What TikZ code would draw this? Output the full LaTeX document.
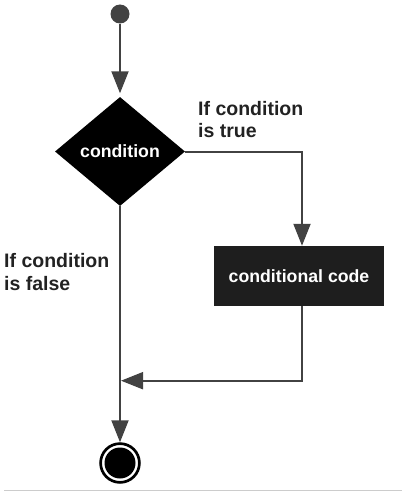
\documentclass[tikz,border=0pt]{standalone}
\usepackage{fontspec}
\setmainfont{Liberation Sans}
\usetikzlibrary{shapes.geometric,arrows.meta}
\definecolor{linec}{HTML}{424242}
\definecolor{boxc}{HTML}{1E1E1E}
\definecolor{textc}{HTML}{222222}
\begin{document}
\begin{tikzpicture}[x=1pt,y=-1pt,
  flow/.style={draw=linec, line width=2pt, -{Triangle[length=22pt,width=17pt]}},
  lbl/.style={font=\fontsize{19.5}{22.5}\selectfont\bfseries, text=textc, align=left, inner sep=0pt},
  ntext/.style={font=\fontsize{17.7}{20}\selectfont\bfseries, text=white},
]
\useasboundingbox (0,0) rectangle (402,500);
\node[circle, fill=linec, minimum size=19pt, inner sep=0pt] (start) at (120,14) {};
\node[diamond, fill=black, minimum width=130pt, minimum height=109pt, inner sep=0pt, ntext] (cond) at (120,151.5) {condition};
\node[rectangle, fill=boxc, minimum width=170pt, minimum height=60pt, inner sep=0pt, ntext] (code) at (299,276) {conditional code};
\node[circle, draw=black, line width=2.7pt, fill=white, minimum size=38.8pt, inner sep=0pt,
  path picture={\fill[black] (path picture bounding box.center) circle (15.5pt);}] (stop) at (120,463) {};
\node[lbl, anchor=base west] (ltrue) at (198,137.5) {If condition\\is true};
\node[lbl, anchor=base west] (lfalse) at (4,290) {If condition\\is false};
\coordinate (join) at (121,380.7);
\draw[flow, shorten >=3.5pt] (start) -- (cond);
\draw[flow] (cond.east) -| ([xshift=3pt]code.north);
\draw[flow] ([xshift=3pt]code.south) |- (join);
\draw[flow] (cond.south) -- (stop.north);
\draw[black!20, line width=1pt] (4,490) -- (402,490);
\end{tikzpicture}
\end{document}
